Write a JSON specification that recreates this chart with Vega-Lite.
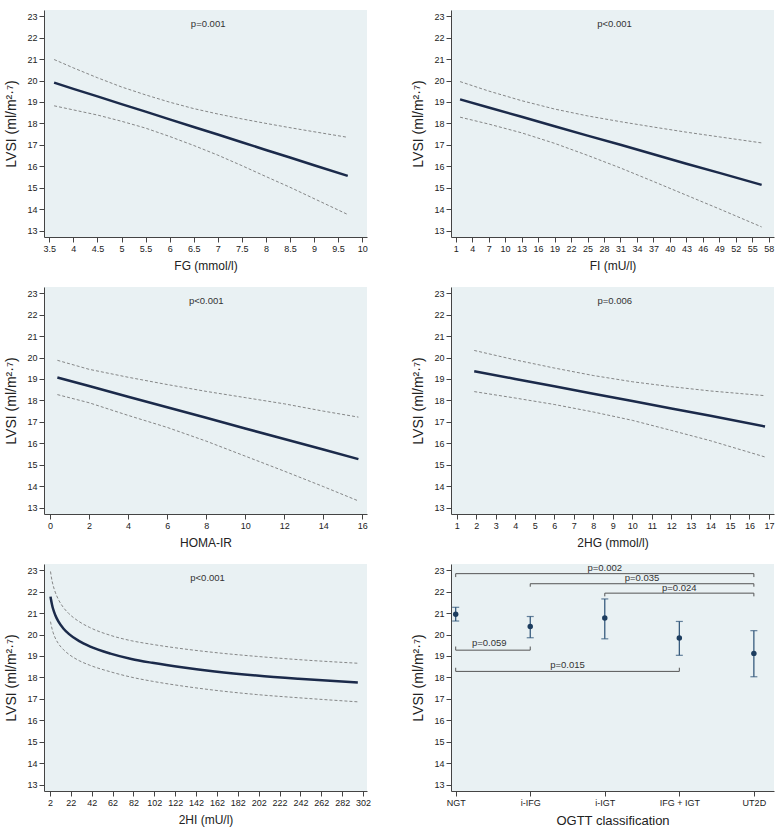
{
  "$schema": "https://vega.github.io/schema/vega-lite/v6.json",
  "autosize": {"type": "none"},
  "padding": {"left": 44, "top": 10, "right": 740, "bottom": 817},
  "background": "white",
  "config": {
    "view": {"fill": "#e9f1f3", "stroke": null},
    "font": "Liberation Sans",
    "axis": {"domainColor": "#444", "tickColor": "#444", "labelColor": "#222", "titleColor": "#222", "labelFont": "Liberation Sans", "titleFont": "Liberation Sans", "labelFontSize": 9, "titleFontWeight": "normal", "tickSize": 5, "labelPadding": 2, "grid": false, "domainWidth": 1, "tickWidth": 1, "labelFlush": false, "labelOverlap": false},
    "axisY": {"titleFontSize": 14, "titlePadding": 8},
    "axisX": {"titleFontSize": 12, "titlePadding": 7},
    "text": {"font": "Liberation Sans", "fontSize": 9.5, "color": "#333"}
  },
  "datasets": {
    "fg": [
      {"x": 3.6, "fit": 19.90, "hi": 20.98, "lo": 18.82},
      {"x": 4.0, "fit": 19.61, "hi": 20.59, "lo": 18.63},
      {"x": 4.5, "fit": 19.26, "hi": 20.13, "lo": 18.39},
      {"x": 5.0, "fit": 18.90, "hi": 19.70, "lo": 18.10},
      {"x": 5.5, "fit": 18.55, "hi": 19.33, "lo": 17.78},
      {"x": 6.0, "fit": 18.19, "hi": 18.99, "lo": 17.39},
      {"x": 6.5, "fit": 17.83, "hi": 18.69, "lo": 16.97},
      {"x": 7.0, "fit": 17.48, "hi": 18.44, "lo": 16.52},
      {"x": 7.5, "fit": 17.12, "hi": 18.21, "lo": 16.03},
      {"x": 8.0, "fit": 16.76, "hi": 18.00, "lo": 15.52},
      {"x": 8.5, "fit": 16.41, "hi": 17.80, "lo": 15.02},
      {"x": 9.0, "fit": 16.05, "hi": 17.61, "lo": 14.49},
      {"x": 9.7, "fit": 15.55, "hi": 17.35, "lo": 13.75}
    ],
    "fi": [
      {"x": 1.8, "fit": 19.12, "hi": 19.95, "lo": 18.29},
      {"x": 7, "fit": 18.74, "hi": 19.51, "lo": 17.97},
      {"x": 13, "fit": 18.31, "hi": 19.06, "lo": 17.56},
      {"x": 19, "fit": 17.87, "hi": 18.67, "lo": 17.07},
      {"x": 25, "fit": 17.43, "hi": 18.35, "lo": 16.51},
      {"x": 31, "fit": 17.00, "hi": 18.08, "lo": 15.92},
      {"x": 37, "fit": 16.56, "hi": 17.83, "lo": 15.29},
      {"x": 43, "fit": 16.12, "hi": 17.59, "lo": 14.65},
      {"x": 49, "fit": 15.69, "hi": 17.37, "lo": 14.01},
      {"x": 56.7, "fit": 15.13, "hi": 17.09, "lo": 13.17}
    ],
    "homa": [
      {"x": 0.375, "fit": 19.07, "hi": 19.87, "lo": 18.27},
      {"x": 2, "fit": 18.67, "hi": 19.45, "lo": 17.89},
      {"x": 4, "fit": 18.17, "hi": 19.08, "lo": 17.30},
      {"x": 6, "fit": 17.68, "hi": 18.74, "lo": 16.74},
      {"x": 8, "fit": 17.19, "hi": 18.42, "lo": 16.10},
      {"x": 10, "fit": 16.69, "hi": 18.13, "lo": 15.40},
      {"x": 12, "fit": 16.20, "hi": 17.84, "lo": 14.70},
      {"x": 14, "fit": 15.71, "hi": 17.50, "lo": 13.98},
      {"x": 15.8, "fit": 15.26, "hi": 17.22, "lo": 13.31}
    ],
    "hg": [
      {"x": 1.9, "fit": 19.36, "hi": 20.33, "lo": 18.41},
      {"x": 4, "fit": 19.00, "hi": 19.89, "lo": 18.11},
      {"x": 6, "fit": 18.66, "hi": 19.51, "lo": 17.81},
      {"x": 8, "fit": 18.31, "hi": 19.16, "lo": 17.46},
      {"x": 10, "fit": 17.97, "hi": 18.87, "lo": 17.07},
      {"x": 12, "fit": 17.62, "hi": 18.64, "lo": 16.60},
      {"x": 14, "fit": 17.28, "hi": 18.44, "lo": 16.12},
      {"x": 16.8, "fit": 16.78, "hi": 18.22, "lo": 15.36}
    ],
    "hi2": [
      {"x": 2.5, "fit": 21.77, "hi": 22.94, "lo": 20.60},
      {"x": 3, "fit": 21.62, "hi": 22.77, "lo": 20.47},
      {"x": 4, "fit": 21.38, "hi": 22.50, "lo": 20.26},
      {"x": 5, "fit": 21.19, "hi": 22.29, "lo": 20.09},
      {"x": 7, "fit": 20.91, "hi": 21.98, "lo": 19.84},
      {"x": 10, "fit": 20.61, "hi": 21.64, "lo": 19.58},
      {"x": 15, "fit": 20.27, "hi": 21.25, "lo": 19.29},
      {"x": 20, "fit": 20.03, "hi": 20.98, "lo": 19.08},
      {"x": 30, "fit": 19.69, "hi": 20.60, "lo": 18.78},
      {"x": 40, "fit": 19.45, "hi": 20.33, "lo": 18.57},
      {"x": 60, "fit": 19.11, "hi": 19.96, "lo": 18.26},
      {"x": 80, "fit": 18.86, "hi": 19.71, "lo": 18.01},
      {"x": 100, "fit": 18.68, "hi": 19.54, "lo": 17.82},
      {"x": 130, "fit": 18.46, "hi": 19.33, "lo": 17.59},
      {"x": 160, "fit": 18.28, "hi": 19.16, "lo": 17.40},
      {"x": 200, "fit": 18.09, "hi": 18.98, "lo": 17.20},
      {"x": 240, "fit": 17.94, "hi": 18.83, "lo": 17.05},
      {"x": 297, "fit": 17.76, "hi": 18.66, "lo": 16.86}
    ],
    "ogtt": [
      {"g": 1, "mean": 20.95, "lo": 20.63, "hi": 21.27},
      {"g": 2, "mean": 20.37, "lo": 19.85, "hi": 20.84},
      {"g": 3, "mean": 20.77, "lo": 19.80, "hi": 21.66},
      {"g": 4, "mean": 19.84, "lo": 19.03, "hi": 20.61},
      {"g": 5, "mean": 19.12, "lo": 18.03, "hi": 20.18}
    ],
    "brackets": [
      {"x1": 1, "x2": 5, "y": 22.84, "cap": 22.68, "label": "p=0.002", "lx": 3, "ly": 23.11},
      {"x1": 2, "x2": 5, "y": 22.37, "cap": 22.23, "label": "p=0.035", "lx": 3.5, "ly": 22.64},
      {"x1": 3, "x2": 5, "y": 21.93, "cap": 21.78, "label": "p=0.024", "lx": 4, "ly": 22.19},
      {"x1": 1, "x2": 2, "y": 19.27, "cap": 19.44, "label": "p=0.059", "lx": 1.45, "ly": 19.59},
      {"x1": 1, "x2": 4, "y": 18.28, "cap": 18.45, "label": "p=0.015", "lx": 2.5, "ly": 18.56}
    ]
  },
  "columns": 2,
  "spacing": {"row": 50, "column": 84},
  "bounds": "flush",
  "concat": [
    {
      "width": 323, "height": 227,
      "data": {"name": "fg"},
      "encoding": {
        "x": {"field": "x", "type": "quantitative", "title": "FG (mmol/l)", "scale": {"domain": [3.39, 10.1], "nice": false, "zero": false}, "axis": {"values": [3.5, 4, 4.5, 5, 5.5, 6, 6.5, 7, 7.5, 8, 8.5, 9, 9.5, 10], "format": "~g"}}
      },
      "layer": [
        {"mark": {"type": "line", "color": "#6b6b6b", "strokeWidth": 0.8, "strokeDash": [3, 2]}, "encoding": {"y": {"field": "hi", "type": "quantitative", "title": "LVSI (ml/m²·⁷)", "scale": {"domain": [12.7, 23.29], "nice": false, "zero": false}, "axis": {"values": [13, 14, 15, 16, 17, 18, 19, 20, 21, 22, 23], "format": "d"}}}},
        {"mark": {"type": "line", "color": "#6b6b6b", "strokeWidth": 0.8, "strokeDash": [3, 2]}, "encoding": {"y": {"field": "lo", "type": "quantitative", "title": "LVSI (ml/m²·⁷)", "scale": {"domain": [12.7, 23.29], "nice": false, "zero": false}, "axis": {"values": [13, 14, 15, 16, 17, 18, 19, 20, 21, 22, 23], "format": "d"}}}},
        {"mark": {"type": "line", "color": "#1b2a4a", "strokeWidth": 2.5}, "encoding": {"y": {"field": "fit", "type": "quantitative", "title": "LVSI (ml/m²·⁷)", "scale": {"domain": [12.7, 23.29], "nice": false, "zero": false}, "axis": {"values": [13, 14, 15, 16, 17, 18, 19, 20, 21, 22, 23], "format": "d"}}}},
        {"data": {"values": [{"x": 6.8, "py": 22.65, "t": "p=0.001"}]}, "mark": {"type": "text"}, "encoding": {"y": {"field": "py", "type": "quantitative", "title": "LVSI (ml/m²·⁷)", "scale": {"domain": [12.7, 23.29], "nice": false, "zero": false}, "axis": {"values": [13, 14, 15, 16, 17, 18, 19, 20, 21, 22, 23], "format": "d"}}, "text": {"field": "t"}}}
      ]
    },
    {
      "width": 323, "height": 227,
      "data": {"name": "fi"},
      "encoding": {
        "x": {"field": "x", "type": "quantitative", "title": "FI (mU/l)", "scale": {"domain": [0.15, 58.95], "nice": false, "zero": false}, "axis": {"values": [1, 4, 7, 10, 13, 16, 19, 22, 25, 28, 31, 34, 37, 40, 43, 46, 49, 52, 55, 58], "format": "d"}}
      },
      "layer": [
        {"mark": {"type": "line", "color": "#6b6b6b", "strokeWidth": 0.8, "strokeDash": [3, 2]}, "encoding": {"y": {"field": "hi", "type": "quantitative", "title": "LVSI (ml/m²·⁷)", "scale": {"domain": [12.7, 23.29], "nice": false, "zero": false}, "axis": {"values": [13, 14, 15, 16, 17, 18, 19, 20, 21, 22, 23], "format": "d"}}}},
        {"mark": {"type": "line", "color": "#6b6b6b", "strokeWidth": 0.8, "strokeDash": [3, 2]}, "encoding": {"y": {"field": "lo", "type": "quantitative", "title": "LVSI (ml/m²·⁷)", "scale": {"domain": [12.7, 23.29], "nice": false, "zero": false}, "axis": {"values": [13, 14, 15, 16, 17, 18, 19, 20, 21, 22, 23], "format": "d"}}}},
        {"mark": {"type": "line", "color": "#1b2a4a", "strokeWidth": 2.5}, "encoding": {"y": {"field": "fit", "type": "quantitative", "title": "LVSI (ml/m²·⁷)", "scale": {"domain": [12.7, 23.29], "nice": false, "zero": false}, "axis": {"values": [13, 14, 15, 16, 17, 18, 19, 20, 21, 22, 23], "format": "d"}}}},
        {"data": {"values": [{"x": 29.9, "py": 22.65, "t": "p<0.001"}]}, "mark": {"type": "text"}, "encoding": {"y": {"field": "py", "type": "quantitative", "title": "LVSI (ml/m²·⁷)", "scale": {"domain": [12.7, 23.29], "nice": false, "zero": false}, "axis": {"values": [13, 14, 15, 16, 17, 18, 19, 20, 21, 22, 23], "format": "d"}}, "text": {"field": "t"}}}
      ]
    },
    {
      "width": 323, "height": 227,
      "data": {"name": "homa"},
      "encoding": {
        "x": {"field": "x", "type": "quantitative", "title": "HOMA-IR", "scale": {"domain": [-0.31, 16.24], "nice": false, "zero": false}, "axis": {"values": [0, 2, 4, 6, 8, 10, 12, 14, 16], "format": "d"}}
      },
      "layer": [
        {"mark": {"type": "line", "color": "#6b6b6b", "strokeWidth": 0.8, "strokeDash": [3, 2]}, "encoding": {"y": {"field": "hi", "type": "quantitative", "title": "LVSI (ml/m²·⁷)", "scale": {"domain": [12.7, 23.29], "nice": false, "zero": false}, "axis": {"values": [13, 14, 15, 16, 17, 18, 19, 20, 21, 22, 23], "format": "d"}}}},
        {"mark": {"type": "line", "color": "#6b6b6b", "strokeWidth": 0.8, "strokeDash": [3, 2]}, "encoding": {"y": {"field": "lo", "type": "quantitative", "title": "LVSI (ml/m²·⁷)", "scale": {"domain": [12.7, 23.29], "nice": false, "zero": false}, "axis": {"values": [13, 14, 15, 16, 17, 18, 19, 20, 21, 22, 23], "format": "d"}}}},
        {"mark": {"type": "line", "color": "#1b2a4a", "strokeWidth": 2.5}, "encoding": {"y": {"field": "fit", "type": "quantitative", "title": "LVSI (ml/m²·⁷)", "scale": {"domain": [12.7, 23.29], "nice": false, "zero": false}, "axis": {"values": [13, 14, 15, 16, 17, 18, 19, 20, 21, 22, 23], "format": "d"}}}},
        {"data": {"values": [{"x": 8.0, "py": 22.65, "t": "p<0.001"}]}, "mark": {"type": "text"}, "encoding": {"y": {"field": "py", "type": "quantitative", "title": "LVSI (ml/m²·⁷)", "scale": {"domain": [12.7, 23.29], "nice": false, "zero": false}, "axis": {"values": [13, 14, 15, 16, 17, 18, 19, 20, 21, 22, 23], "format": "d"}}, "text": {"field": "t"}}}
      ]
    },
    {
      "width": 323, "height": 227,
      "data": {"name": "hg"},
      "encoding": {
        "x": {"field": "x", "type": "quantitative", "title": "2HG (mmol/l)", "scale": {"domain": [0.71, 17.26], "nice": false, "zero": false}, "axis": {"values": [1, 2, 3, 4, 5, 6, 7, 8, 9, 10, 11, 12, 13, 14, 15, 16, 17], "format": "d"}}
      },
      "layer": [
        {"mark": {"type": "line", "color": "#6b6b6b", "strokeWidth": 0.8, "strokeDash": [3, 2]}, "encoding": {"y": {"field": "hi", "type": "quantitative", "title": "LVSI (ml/m²·⁷)", "scale": {"domain": [12.7, 23.29], "nice": false, "zero": false}, "axis": {"values": [13, 14, 15, 16, 17, 18, 19, 20, 21, 22, 23], "format": "d"}}}},
        {"mark": {"type": "line", "color": "#6b6b6b", "strokeWidth": 0.8, "strokeDash": [3, 2]}, "encoding": {"y": {"field": "lo", "type": "quantitative", "title": "LVSI (ml/m²·⁷)", "scale": {"domain": [12.7, 23.29], "nice": false, "zero": false}, "axis": {"values": [13, 14, 15, 16, 17, 18, 19, 20, 21, 22, 23], "format": "d"}}}},
        {"mark": {"type": "line", "color": "#1b2a4a", "strokeWidth": 2.5}, "encoding": {"y": {"field": "fit", "type": "quantitative", "title": "LVSI (ml/m²·⁷)", "scale": {"domain": [12.7, 23.29], "nice": false, "zero": false}, "axis": {"values": [13, 14, 15, 16, 17, 18, 19, 20, 21, 22, 23], "format": "d"}}}},
        {"data": {"values": [{"x": 9.1, "py": 22.66, "t": "p=0.006"}]}, "mark": {"type": "text"}, "encoding": {"y": {"field": "py", "type": "quantitative", "title": "LVSI (ml/m²·⁷)", "scale": {"domain": [12.7, 23.29], "nice": false, "zero": false}, "axis": {"values": [13, 14, 15, 16, 17, 18, 19, 20, 21, 22, 23], "format": "d"}}, "text": {"field": "t"}}}
      ]
    },
    {
      "width": 323, "height": 227,
      "data": {"name": "hi2"},
      "encoding": {
        "x": {"field": "x", "type": "quantitative", "title": "2HI (mU/l)", "scale": {"domain": [-3.75, 305.8], "nice": false, "zero": false}, "axis": {"values": [2, 22, 42, 62, 82, 102, 122, 142, 162, 182, 202, 222, 242, 262, 282, 302], "format": "d"}}
      },
      "layer": [
        {"mark": {"type": "line", "color": "#6b6b6b", "strokeWidth": 0.8, "strokeDash": [3, 2], "interpolate": "monotone"}, "encoding": {"y": {"field": "hi", "type": "quantitative", "title": "LVSI (ml/m²·⁷)", "scale": {"domain": [12.7, 23.29], "nice": false, "zero": false}, "axis": {"values": [13, 14, 15, 16, 17, 18, 19, 20, 21, 22, 23], "format": "d"}}}},
        {"mark": {"type": "line", "color": "#6b6b6b", "strokeWidth": 0.8, "strokeDash": [3, 2], "interpolate": "monotone"}, "encoding": {"y": {"field": "lo", "type": "quantitative", "title": "LVSI (ml/m²·⁷)", "scale": {"domain": [12.7, 23.29], "nice": false, "zero": false}, "axis": {"values": [13, 14, 15, 16, 17, 18, 19, 20, 21, 22, 23], "format": "d"}}}},
        {"mark": {"type": "line", "color": "#1b2a4a", "strokeWidth": 2.5, "interpolate": "monotone"}, "encoding": {"y": {"field": "fit", "type": "quantitative", "title": "LVSI (ml/m²·⁷)", "scale": {"domain": [12.7, 23.29], "nice": false, "zero": false}, "axis": {"values": [13, 14, 15, 16, 17, 18, 19, 20, 21, 22, 23], "format": "d"}}}},
        {"data": {"values": [{"x": 153, "py": 22.66, "t": "p<0.001"}]}, "mark": {"type": "text"}, "encoding": {"y": {"field": "py", "type": "quantitative", "title": "LVSI (ml/m²·⁷)", "scale": {"domain": [12.7, 23.29], "nice": false, "zero": false}, "axis": {"values": [13, 14, 15, 16, 17, 18, 19, 20, 21, 22, 23], "format": "d"}}, "text": {"field": "t"}}}
      ]
    },
    {
      "width": 323, "height": 227,
      "layer": [
        {
          "data": {"name": "brackets"},
          "mark": {"type": "rule", "color": "#555", "strokeWidth": 1},
          "encoding": {
            "x": {"field": "x1", "type": "quantitative", "title": "OGTT classification", "scale": {"domain": [0.937, 5.27], "nice": false, "zero": false}, "axis": {"values": [1, 2, 3, 4, 5], "labelExpr": "['', 'NGT', 'i-IFG', 'i-IGT', 'IFG + IGT', 'UT2D'][datum.value]", "titleFontSize": 13}},
            "x2": {"field": "x2"},
            "y": {"field": "y", "type": "quantitative", "title": "LVSI (ml/m²·⁷)", "scale": {"domain": [12.7, 23.29], "nice": false, "zero": false}, "axis": {"values": [13, 14, 15, 16, 17, 18, 19, 20, 21, 22, 23], "format": "d"}}
          }
        },
        {
          "data": {"name": "brackets"},
          "mark": {"type": "rule", "color": "#555", "strokeWidth": 1},
          "encoding": {
            "x": {"field": "x1", "type": "quantitative", "title": "OGTT classification", "scale": {"domain": [0.937, 5.27], "nice": false, "zero": false}, "axis": {"values": [1, 2, 3, 4, 5], "labelExpr": "['', 'NGT', 'i-IFG', 'i-IGT', 'IFG + IGT', 'UT2D'][datum.value]", "titleFontSize": 13}},
            "y": {"field": "y", "type": "quantitative", "title": "LVSI (ml/m²·⁷)", "scale": {"domain": [12.7, 23.29], "nice": false, "zero": false}, "axis": {"values": [13, 14, 15, 16, 17, 18, 19, 20, 21, 22, 23], "format": "d"}},
            "y2": {"field": "cap"}
          }
        },
        {
          "data": {"name": "brackets"},
          "mark": {"type": "rule", "color": "#555", "strokeWidth": 1},
          "encoding": {
            "x": {"field": "x2", "type": "quantitative", "title": "OGTT classification", "scale": {"domain": [0.937, 5.27], "nice": false, "zero": false}, "axis": {"values": [1, 2, 3, 4, 5], "labelExpr": "['', 'NGT', 'i-IFG', 'i-IGT', 'IFG + IGT', 'UT2D'][datum.value]", "titleFontSize": 13}},
            "y": {"field": "y", "type": "quantitative", "title": "LVSI (ml/m²·⁷)", "scale": {"domain": [12.7, 23.29], "nice": false, "zero": false}, "axis": {"values": [13, 14, 15, 16, 17, 18, 19, 20, 21, 22, 23], "format": "d"}},
            "y2": {"field": "cap"}
          }
        },
        {
          "data": {"name": "brackets"},
          "mark": {"type": "text"},
          "encoding": {
            "x": {"field": "lx", "type": "quantitative", "title": "OGTT classification", "scale": {"domain": [0.937, 5.27], "nice": false, "zero": false}, "axis": {"values": [1, 2, 3, 4, 5], "labelExpr": "['', 'NGT', 'i-IFG', 'i-IGT', 'IFG + IGT', 'UT2D'][datum.value]", "titleFontSize": 13}},
            "y": {"field": "ly", "type": "quantitative", "title": "LVSI (ml/m²·⁷)", "scale": {"domain": [12.7, 23.29], "nice": false, "zero": false}, "axis": {"values": [13, 14, 15, 16, 17, 18, 19, 20, 21, 22, 23], "format": "d"}},
            "text": {"field": "label"}
          }
        },
        {
          "data": {"name": "ogtt"},
          "mark": {"type": "rule", "color": "#2a5075", "strokeWidth": 1.2},
          "encoding": {
            "x": {"field": "g", "type": "quantitative", "title": "OGTT classification", "scale": {"domain": [0.937, 5.27], "nice": false, "zero": false}, "axis": {"values": [1, 2, 3, 4, 5], "labelExpr": "['', 'NGT', 'i-IFG', 'i-IGT', 'IFG + IGT', 'UT2D'][datum.value]", "titleFontSize": 13}},
            "y": {"field": "lo", "type": "quantitative", "title": "LVSI (ml/m²·⁷)", "scale": {"domain": [12.7, 23.29], "nice": false, "zero": false}, "axis": {"values": [13, 14, 15, 16, 17, 18, 19, 20, 21, 22, 23], "format": "d"}},
            "y2": {"field": "hi"}
          }
        },
        {
          "data": {"name": "ogtt"},
          "mark": {"type": "tick", "orient": "horizontal", "color": "#2a5075", "size": 7, "thickness": 1.2},
          "encoding": {
            "x": {"field": "g", "type": "quantitative", "title": "OGTT classification", "scale": {"domain": [0.937, 5.27], "nice": false, "zero": false}, "axis": {"values": [1, 2, 3, 4, 5], "labelExpr": "['', 'NGT', 'i-IFG', 'i-IGT', 'IFG + IGT', 'UT2D'][datum.value]", "titleFontSize": 13}},
            "y": {"field": "lo", "type": "quantitative", "title": "LVSI (ml/m²·⁷)", "scale": {"domain": [12.7, 23.29], "nice": false, "zero": false}, "axis": {"values": [13, 14, 15, 16, 17, 18, 19, 20, 21, 22, 23], "format": "d"}}
          }
        },
        {
          "data": {"name": "ogtt"},
          "mark": {"type": "tick", "orient": "horizontal", "color": "#2a5075", "size": 7, "thickness": 1.2},
          "encoding": {
            "x": {"field": "g", "type": "quantitative", "title": "OGTT classification", "scale": {"domain": [0.937, 5.27], "nice": false, "zero": false}, "axis": {"values": [1, 2, 3, 4, 5], "labelExpr": "['', 'NGT', 'i-IFG', 'i-IGT', 'IFG + IGT', 'UT2D'][datum.value]", "titleFontSize": 13}},
            "y": {"field": "hi", "type": "quantitative", "title": "LVSI (ml/m²·⁷)", "scale": {"domain": [12.7, 23.29], "nice": false, "zero": false}, "axis": {"values": [13, 14, 15, 16, 17, 18, 19, 20, 21, 22, 23], "format": "d"}}
          }
        },
        {
          "data": {"name": "ogtt"},
          "mark": {"type": "circle", "color": "#1d3d5f", "size": 30, "opacity": 1},
          "encoding": {
            "x": {"field": "g", "type": "quantitative", "title": "OGTT classification", "scale": {"domain": [0.937, 5.27], "nice": false, "zero": false}, "axis": {"values": [1, 2, 3, 4, 5], "labelExpr": "['', 'NGT', 'i-IFG', 'i-IGT', 'IFG + IGT', 'UT2D'][datum.value]", "titleFontSize": 13}},
            "y": {"field": "mean", "type": "quantitative", "title": "LVSI (ml/m²·⁷)", "scale": {"domain": [12.7, 23.29], "nice": false, "zero": false}, "axis": {"values": [13, 14, 15, 16, 17, 18, 19, 20, 21, 22, 23], "format": "d"}}
          }
        }
      ]
    }
  ]
}
